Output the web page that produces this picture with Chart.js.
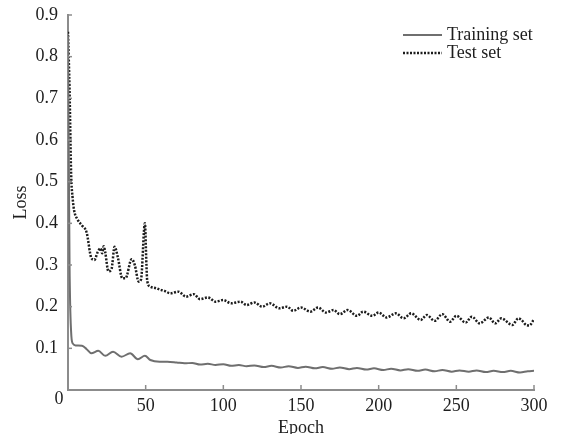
<!DOCTYPE html>
<html>
<head>
<meta charset="utf-8">
<script src="https://cdn.jsdelivr.net/npm/chart.js@4.4.1/dist/chart.umd.min.js"></script>
<style>
  html, body { margin: 0; padding: 0; background: #fff; }
  #wrap { width: 561px; height: 434px; }
</style>
</head>
<body>
<div id="wrap"><canvas id="lossChart" width="561" height="434"></canvas></div>
<script>
// epochs and loss values
var trainEpoch = [0, 1, 2, 3, 5, 9, 12, 15, 19.5, 24, 29, 34.5, 40, 45, 49.5, 53, 59, 64, 70, 75, 80, 85, 90, 95, 100,
    105, 110, 115, 120, 126, 131, 137, 142, 148, 153, 159, 164, 170, 175, 181, 186, 192, 197, 203, 208, 214, 219,
    225, 230, 236, 241, 247, 252, 258, 263, 269, 274, 280, 285, 291, 296, 300];
var trainLoss = [0.85, 0.30, 0.14, 0.112, 0.107, 0.106, 0.098, 0.088, 0.094, 0.082, 0.092, 0.080, 0.088, 0.074, 0.082,
    0.072, 0.068, 0.068, 0.066, 0.064, 0.065, 0.061, 0.063, 0.060, 0.062, 0.058, 0.060, 0.057, 0.059, 0.055, 0.058,
    0.054, 0.057, 0.053, 0.056, 0.052, 0.055, 0.051, 0.054, 0.050, 0.053, 0.049, 0.052, 0.048, 0.051, 0.047, 0.050,
    0.046, 0.049, 0.045, 0.048, 0.044, 0.047, 0.044, 0.047, 0.043, 0.046, 0.043, 0.046, 0.042, 0.045, 0.046];

var testEpoch = [0, 1, 2, 3, 4, 6, 9, 12, 15, 17, 19, 21, 22, 23, 24, 26, 28, 30, 32, 35, 37, 41, 43, 45.5, 47, 49.5,
    50.5, 51, 53, 57, 59, 62, 66, 71, 76, 81, 85, 90, 95, 100, 105, 111, 115, 120, 125, 130, 136, 141, 145, 150,
    156, 161, 166, 171, 175, 180, 186, 190, 196, 200, 205, 211, 216, 221, 227, 231, 236, 241, 246, 250, 256, 260,
    265, 271, 275, 279, 286, 290, 292, 295, 297, 300];
var testLoss = [0.86, 0.72, 0.52, 0.46, 0.43, 0.41, 0.395, 0.378, 0.317, 0.312, 0.33, 0.34, 0.328, 0.345, 0.33, 0.285,
    0.29, 0.344, 0.32, 0.268, 0.268, 0.314, 0.30, 0.26, 0.265, 0.40, 0.30, 0.262, 0.248, 0.244, 0.241, 0.238, 0.232,
    0.236, 0.224, 0.230, 0.218, 0.222, 0.212, 0.216, 0.208, 0.212, 0.204, 0.21, 0.20, 0.208, 0.196, 0.20, 0.19,
    0.198, 0.188, 0.198, 0.186, 0.192, 0.182, 0.192, 0.178, 0.188, 0.178, 0.186, 0.174, 0.184, 0.172, 0.184, 0.168,
    0.18, 0.166, 0.182, 0.164, 0.178, 0.162, 0.176, 0.16, 0.174, 0.16, 0.172, 0.156, 0.172, 0.168, 0.156, 0.155, 0.17];

var xTicks = [0, 50, 100, 150, 200, 250, 300];
var yTicks = [0, 0.1, 0.2, 0.3, 0.4, 0.5, 0.6, 0.7, 0.8, 0.9];

function toPoints(xs, ys) {
    var pts = [];
    for (var i = 0; i < xs.length; i++) {
        pts.push({x: xs[i], y: ys[i]});
    }
    return pts;
}

var serif = "'Liberation Serif', 'Times New Roman', serif";
var axisColor = '#8c8c8c';
var textColor = '#1e1e1e';

// inward tick marks, the shared "0" at the origin and the legend
var extras = {
    id: 'extras',
    afterDraw: function(chart) {
        var ctx = chart.ctx;
        var xs = chart.scales.x, ys = chart.scales.y;
        var area = chart.chartArea;
        ctx.save();
        ctx.strokeStyle = axisColor;
        ctx.lineWidth = 1.5;
        xTicks.forEach(function(v) {
            if (v === 0) return;
            var px = xs.getPixelForValue(v);
            ctx.beginPath();
            ctx.moveTo(px, area.bottom);
            ctx.lineTo(px, area.bottom - 5);
            ctx.stroke();
        });
        yTicks.forEach(function(v) {
            if (v === 0) return;
            var py = ys.getPixelForValue(v);
            ctx.beginPath();
            ctx.moveTo(area.left, py);
            ctx.lineTo(area.left + 4, py);
            ctx.stroke();
        });

        ctx.fillStyle = textColor;
        ctx.font = '18px ' + serif;
        ctx.textAlign = 'center';
        ctx.textBaseline = 'middle';
        ctx.fillText('0', area.left - 9, area.bottom + 9);

        // legend
        var lx = 403, ly = 35;
        ctx.textAlign = 'left';
        chart.data.datasets.forEach(function(ds, i) {
            var y = ly + i * 18;
            ctx.strokeStyle = ds.borderColor;
            ctx.lineWidth = ds.borderWidth;
            ctx.setLineDash(ds.borderDash || []);
            ctx.beginPath();
            ctx.moveTo(lx, y);
            ctx.lineTo(lx + 39, y);
            ctx.stroke();
            ctx.setLineDash([]);
            ctx.fillStyle = textColor;
            ctx.fillText(ds.label, lx + 44, y);
        });
        ctx.restore();
    }
};

new Chart(document.getElementById('lossChart'), {
    type: 'line',
    data: {
        datasets: [{
            label: 'Training set',
            data: toPoints(trainEpoch, trainLoss),
            borderColor: '#6f6f6f',
            borderWidth: 2,
            pointRadius: 0,
            cubicInterpolationMode: 'monotone',
            fill: false
        }, {
            label: 'Test set',
            data: toPoints(testEpoch, testLoss),
            borderColor: '#1c1c1c',
            borderWidth: 2.5,
            borderDash: [2, 1.5],
            pointRadius: 0,
            cubicInterpolationMode: 'monotone',
            fill: false
        }]
    },
    options: {
        responsive: false,
        animation: false,
        layout: { padding: { top: 15, right: 27, left: 0, bottom: 0 } },
        plugins: {
            legend: { display: false },
            tooltip: { enabled: false }
        },
        scales: {
            x: {
                type: 'linear',
                min: 0,
                max: 300,
                afterFit: function(s) { s.height = 44; },
                afterBuildTicks: function(s) { s.ticks = xTicks.map(function(v) { return {value: v}; }); },
                grid: { display: true, drawOnChartArea: false, drawTicks: false },
                border: { display: true, color: axisColor, width: 2 },
                ticks: {
                    padding: 5,
                    color: textColor,
                    font: { family: serif, size: 18 },
                    callback: function(v) { return v === 0 ? '' : String(v); }
                },
                title: {
                    display: true,
                    text: 'Epoch',
                    color: textColor,
                    font: { family: serif, size: 18 },
                    padding: { top: 0, bottom: -5 }
                }
            },
            y: {
                min: 0,
                max: 0.9,
                afterFit: function(s) { s.width = 68; s.paddingTop = 0; s.paddingBottom = 0; },
                afterBuildTicks: function(s) { s.ticks = yTicks.map(function(v) { return {value: v}; }); },
                grid: { display: true, drawOnChartArea: false, drawTicks: false },
                border: { display: true, color: axisColor, width: 2 },
                ticks: {
                    padding: 10,
                    color: textColor,
                    font: { family: serif, size: 18 },
                    callback: function(v) { return v === 0 ? '' : v.toFixed(1); }
                },
                title: {
                    display: true,
                    text: 'Loss',
                    color: textColor,
                    font: { family: serif, size: 18 },
                    padding: { top: 10, bottom: 0 }
                }
            }
        }
    },
    plugins: [extras]
});
</script>
</body>
</html>
